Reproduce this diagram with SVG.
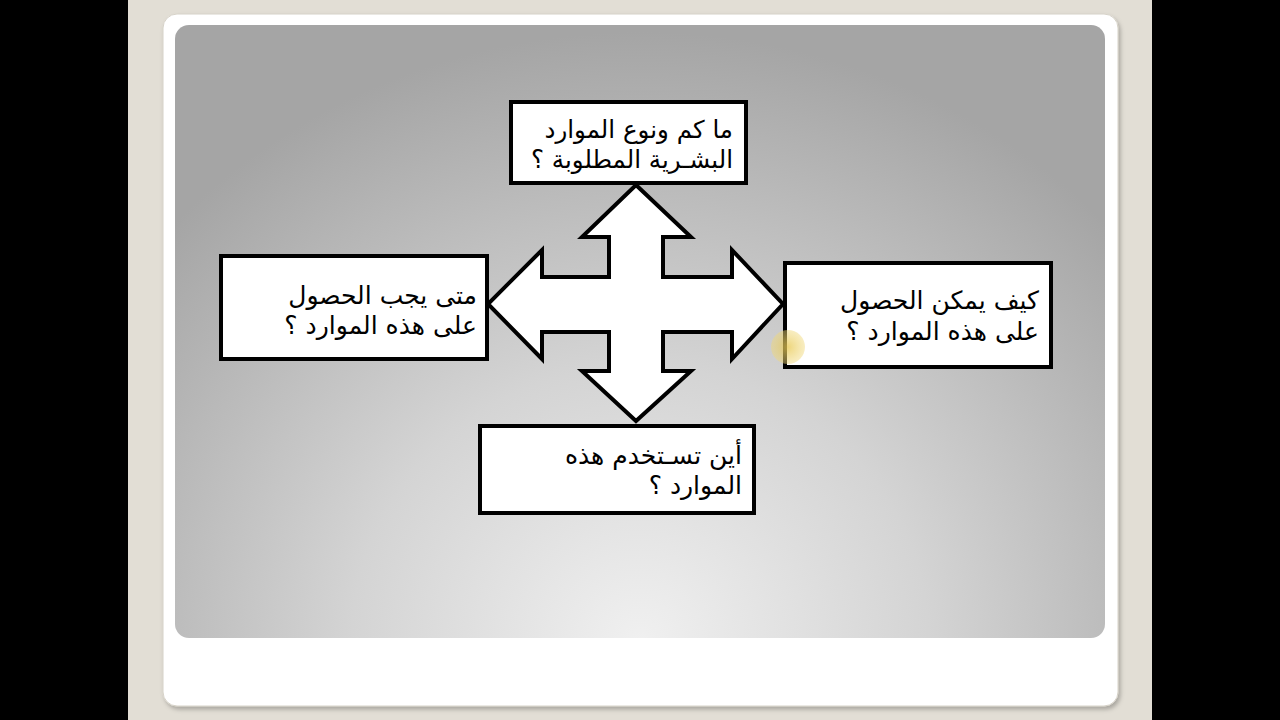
<svg xmlns="http://www.w3.org/2000/svg" width="1280" height="720" viewBox="0 0 1280 720">
  <defs>
    <radialGradient id="panelGrad" gradientUnits="userSpaceOnUse" cx="640" cy="640" r="640" gradientTransform="translate(640 640) scale(1 0.95) translate(-640 -640)">
      <stop offset="0" stop-color="#f0f0f0"/>
      <stop offset="0.45" stop-color="#d4d4d4"/>
      <stop offset="1" stop-color="#a5a5a5"/>
    </radialGradient>
    <filter id="cardShadow" x="-5%" y="-5%" width="110%" height="110%">
      <feDropShadow dx="2" dy="3" stdDeviation="2" flood-color="#000" flood-opacity="0.25"/>
    </filter>
    <radialGradient id="cursorGrad">
      <stop offset="0" stop-color="#e8c850" stop-opacity="0.75"/>
      <stop offset="1" stop-color="#f0d878" stop-opacity="0.45"/>
    </radialGradient>
  </defs>
  <style>
    .box { fill: #ffffff; stroke: #000000; stroke-width: 4; }
    .lbl { font-family: "DejaVu Sans", "Noto Sans", sans-serif; font-size: 25px; fill: #000000; direction: rtl; text-anchor: start; }
    .arrow { fill: #ffffff; stroke: #000000; stroke-width: 4; stroke-linejoin: miter; }
  </style>

  <!-- background -->
  <rect x="0" y="0" width="1280" height="720" fill="#000000"/>
  <rect x="128" y="0" width="1024" height="720" fill="#e2ded5"/>
  <rect x="163" y="14" width="955" height="692" rx="14" ry="14" fill="#ffffff" stroke="#d6d2c8" stroke-width="1" filter="url(#cardShadow)"/>
  <rect x="175" y="25" width="930" height="613" rx="14" ry="14" fill="url(#panelGrad)"/>

  <!-- connectors: four-way arrow -->
  <g id="connectors">
    <path class="arrow" d="M636,185 L691,237 L663,237 L663,277 L732,277 L732,250 L783,304 L732,359 L732,332 L663,332 L663,371 L691,371 L636,421 L582,371 L609,371 L609,332 L542,332 L542,359 L488,304 L542,250 L542,277 L609,277 L609,237 L582,237 Z"/>
  </g>

  <g id="node-top">
    <rect class="box" x="511" y="102" width="235" height="81"/>
    <text class="lbl" x="733" y="138" style="font-size:24.5px">ما كم ونوع الموارد</text>
    <text class="lbl" x="733" y="168" style="font-size:24.5px">البشـرية المطلوبة ؟</text>
  </g>

  <g id="node-left">
    <rect class="box" x="221" y="256" width="266" height="103"/>
    <text class="lbl" x="477" y="304">متى يجب الحصول</text>
    <text class="lbl" x="477" y="334">على هذه الموارد ؟</text>
  </g>

  <g id="node-right">
    <rect class="box" x="785" y="263" width="266" height="104"/>
    <text class="lbl" x="1039" y="309">كيف يمكن الحصول</text>
    <text class="lbl" x="1039" y="340">على هذه الموارد ؟</text>
  </g>

  <g id="node-bottom">
    <rect class="box" x="480" y="426" width="274" height="87"/>
    <text class="lbl" x="742" y="464">أين تسـتخدم هذه</text>
    <text class="lbl" x="742" y="494">الموارد ؟</text>
  </g>

  <!-- cursor highlight -->
  <circle cx="788" cy="347" r="17" fill="url(#cursorGrad)"/>
</svg>
